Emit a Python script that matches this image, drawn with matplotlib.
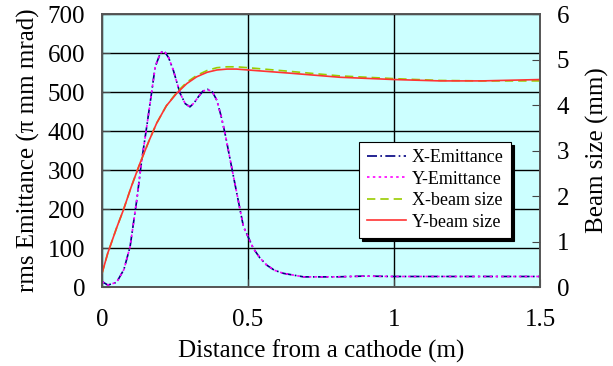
import matplotlib.pyplot as plt

plt.rcParams['font.family'] = ['Liberation Serif', 'DejaVu Serif']

# emittance (pi mm mrad)
z_emit = [0.0, 0.02, 0.05, 0.075, 0.096, 0.119, 0.135, 0.153, 0.17, 0.182, 0.2, 0.212,
          0.228, 0.244, 0.267, 0.285, 0.301, 0.315, 0.33, 0.345, 0.361, 0.378, 0.393,
          0.407, 0.421, 0.45, 0.484, 0.518, 0.54, 0.564, 0.59, 0.621, 0.69, 0.8, 0.9,
          1.0, 1.2, 1.5]
x_emit = [14, 5, 12, 45, 103, 223, 320, 411, 500, 565, 600, 606,
          588, 556, 497, 470, 462, 472, 488, 502, 507, 500, 479,
          440, 394, 283, 155, 99, 75, 56, 43, 35, 26, 26, 28,
          27, 27, 27]
y_emit = x_emit

# beam size (mm)
z_size = [0.0, 0.02, 0.05, 0.073, 0.1, 0.13, 0.16, 0.187, 0.22, 0.256, 0.29, 0.324,
          0.36, 0.393, 0.428, 0.46, 0.5, 0.643, 0.814, 1.0, 1.157, 1.3, 1.5]
x_size = [0.30, 0.75, 1.3, 1.69, 2.2, 2.72, 3.2, 3.6, 3.98, 4.28, 4.5, 4.65,
          4.76, 4.82, 4.84, 4.84, 4.82, 4.74, 4.64, 4.58, 4.54, 4.53, 4.53]
y_size = [0.30, 0.75, 1.3, 1.69, 2.2, 2.72, 3.2, 3.6, 3.98, 4.26, 4.47, 4.62,
          4.72, 4.77, 4.79, 4.79, 4.77, 4.70, 4.61, 4.56, 4.53, 4.53, 4.56]

fig = plt.figure(figsize=(6.13, 3.66), dpi=100)
ax = fig.add_axes([0.1664, 0.2158, 0.7150, 0.7459])
ax.set_facecolor('#ccffff')
ax2 = ax.twinx()

l1, = ax.plot(z_emit, x_emit, color='#000080', lw=1.2, ls=(0, (6, 2, 1, 2)), label='X-Emittance')
l2, = ax.plot(z_emit, y_emit, color='#ff00ff', lw=1.2, ls=(0, (1.5, 2)), label='Y-Emittance')
l3, = ax2.plot(z_size, x_size, color='#99cc00', lw=1.2, ls=(0, (5, 3)), label='X-beam size')
l4, = ax2.plot(z_size, y_size, color='#ff3333', lw=1.2, label='Y-beam size')

ax.set_xlim(0, 1.5)
ax.set_ylim(0, 700)
ax2.set_ylim(0, 6)
ax.set_xticks([0, 0.5, 1, 1.5])
ax.set_xticklabels(['0', '0.5', '1', '1.5'])
ax.set_yticks(range(0, 701, 100))
ax2.set_yticks(range(0, 7))
ax.grid(True, color='black', lw=1)
ax.set_axisbelow(True)

for a in (ax, ax2):
    a.tick_params(direction='in', length=6, labelsize=18, color='#444444')
    for s in a.spines.values():
        s.set_color('#555555')
        s.set_linewidth(1.2)
ax.tick_params(axis='x', pad=16)
ax.tick_params(axis='y', pad=12)
ax2.tick_params(axis='y', pad=12)

ax.set_xlabel('Distance from a cathode (m)', fontsize=18, labelpad=6)
ax.set_ylabel('rms Emittance (π mm mrad)', fontsize=18, labelpad=6)
ax2.set_ylabel('Beam size (mm)', fontsize=18, labelpad=12)

leg = ax2.legend(handles=[l1, l2, l3, l4], loc='upper left', bbox_to_anchor=(0.587, 0.531),
                 fontsize=13, frameon=True, fancybox=False, shadow={'color': 'black', 'alpha': 1},
                 edgecolor='black', framealpha=1, handlelength=2.2, handletextpad=0.3,
                 borderpad=0.4, labelspacing=0.25, borderaxespad=0)
leg.get_frame().set_linewidth(0.8)

fig.savefig('out.png', dpi=100)
